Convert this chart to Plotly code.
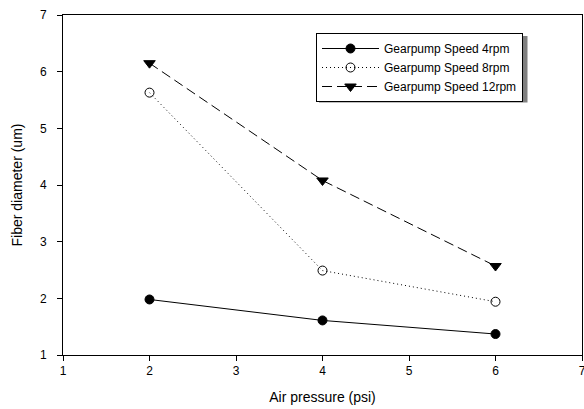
import plotly.graph_objects as go

pressure = [2, 4, 6]
speed_4rpm = [1.98, 1.61, 1.37]
speed_8rpm = [5.63, 2.49, 1.94]
speed_12rpm = [6.15, 4.08, 2.57]
names = ["Gearpump Speed 4rpm", "Gearpump Speed 8rpm", "Gearpump Speed 12rpm"]

FONT = "Liberation Sans, Arial, sans-serif"

fig = go.Figure()
fig.add_trace(go.Scatter(
    x=pressure, y=speed_4rpm, name=names[0], mode="lines+markers",
    line=dict(color="black", width=1, dash="solid"),
    marker=dict(symbol="circle", size=9, color="black", line=dict(color="black", width=1))))
fig.add_trace(go.Scatter(
    x=pressure, y=speed_8rpm, name=names[1], mode="lines+markers",
    line=dict(color="black", width=1, dash="1px,3px"),
    marker=dict(symbol="circle-open", size=9, color="black", line=dict(color="black", width=1))))
fig.add_trace(go.Scatter(
    x=pressure, y=speed_12rpm, name=names[2], mode="lines+markers",
    line=dict(color="black", width=1, dash="10px,5px"),
    marker=dict(symbol="triangle-down", size=10, color="black", line=dict(color="black", width=1))))

axis_common = dict(
    showgrid=False, zeroline=False, showline=True, linecolor="black", linewidth=1,
    mirror=True, ticks="outside", ticklen=5, tickwidth=1, tickcolor="black",
    tickfont=dict(family=FONT, size=12, color="black"), automargin=False,
    ticklabeloverflow="allow",
)

# plot area in pixels: left 63, right 582, top 15, bottom 355
PL, PR, PT, PB = 63, 582, 15, 355
W, H = 584, 409

def px_x(p):
    return (p - PL) / (PR - PL)

def px_y(p):
    return (PB - p) / (PB - PT)

# legend drop shadow
fig.add_shape(type="rect", xref="paper", yref="paper",
              x0=px_x(319), x1=px_x(527.5), y0=px_y(102.5), y1=px_y(36),
              fillcolor="#808080", line=dict(width=0), layer="above")

fig.update_layout(
    width=W, height=H,
    margin=dict(l=PL, r=W - PR, t=PT, b=H - PB),
    paper_bgcolor="white", plot_bgcolor="white",
    font=dict(family=FONT, color="black"),
    xaxis=dict(range=[1, 7], dtick=1, tick0=1,
               title=dict(text="Air pressure (psi)", font=dict(family=FONT, size=14), standoff=14),
               **axis_common),
    yaxis=dict(range=[1, 7], dtick=1, tick0=1, ticklabelstandoff=8,
               title=dict(text="Fiber diameter (um)", font=dict(family=FONT, size=14), standoff=14),
               **axis_common),
    legend=dict(
        x=px_x(316), y=px_y(33), xanchor="left", yanchor="top",
        bgcolor="white", bordercolor="black", borderwidth=1,
        font=dict(family=FONT, size=12, color="black"),
        itemwidth=57, tracegroupgap=0,
    ),
    showlegend=True,
)

fig.write_html("out.html", config={"displayModeBar": False},
               post_script="document.body.style.margin='0';")
